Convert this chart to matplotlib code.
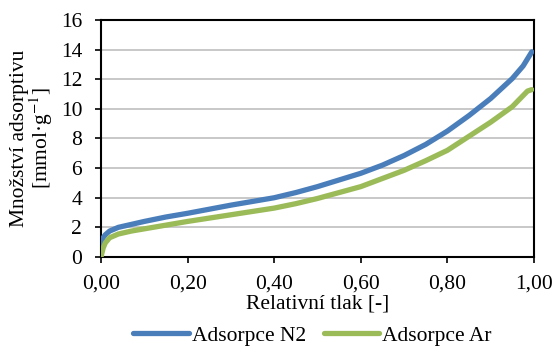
#!/usr/bin/env python3
"""Adsorption isotherms of N2 and Ar (relative pressure vs adsorbed amount)."""

import matplotlib
matplotlib.use('Agg')
import matplotlib.pyplot as plt

# N2 isotherm
p_n2 = [0.0, 0.005, 0.01, 0.02, 0.04, 0.07, 0.10, 0.15, 0.20, 0.30, 0.40,
        0.45, 0.50, 0.55, 0.60, 0.65, 0.70, 0.75, 0.80, 0.85, 0.90,
        0.95, 0.975, 0.995]
q_n2 = [0.9, 1.3, 1.5, 1.75, 2.0, 2.2, 2.4, 2.7, 2.95, 3.5, 4.0,
        4.35, 4.75, 5.2, 5.65, 6.2, 6.85, 7.6, 8.5, 9.55, 10.7,
        12.05, 12.9, 13.85]

# Ar isotherm
p_ar = [0.0, 0.005, 0.01, 0.02, 0.04, 0.07, 0.10, 0.15, 0.20, 0.30, 0.40,
        0.45, 0.50, 0.55, 0.60, 0.65, 0.70, 0.75, 0.80, 0.85, 0.90,
        0.95, 0.985, 0.995]
q_ar = [0.0, 0.6, 0.95, 1.3, 1.55, 1.75, 1.9, 2.15, 2.4, 2.85, 3.3,
        3.6, 3.95, 4.35, 4.75, 5.3, 5.85, 6.5, 7.2, 8.15, 9.1,
        10.15, 11.2, 11.3]

x_ticks = [0.0, 0.2, 0.4, 0.6, 0.8, 1.0]
y_ticks = [0, 2, 4, 6, 8, 10, 12, 14, 16]

plt.rcParams['font.family'] = ['Liberation Serif', 'DejaVu Serif']
plt.rcParams['mathtext.fontset'] = 'stix'
FS = 15.5

fig = plt.figure(figsize=(5.53, 3.47), dpi=100)
ax = fig.add_axes([0.1826, 0.2594, 0.783, 0.683])

ax.plot(p_n2, q_n2, color='#4A7EBB', lw=3.8, solid_capstyle='round',
        label='Adsorpce N2', zorder=3)
ax.plot(p_ar, q_ar, color='#9BBB59', lw=3.8, solid_capstyle='round',
        label='Adsorpce Ar', zorder=3)

ax.set_xlim(0, 1)
ax.set_ylim(0, 16)
ax.set_xticks(x_ticks)
ax.set_xticklabels([f"{v:.2f}".replace('.', ',') for v in x_ticks])
ax.set_yticks(y_ticks)
ax.tick_params(labelsize=FS, length=4.5, width=1.2, direction='out',
               color='black')
ax.tick_params(axis='x', pad=8)
ax.tick_params(axis='y', pad=9)
ax.grid(axis='y', color='#BFBFBF', lw=1.2)
ax.set_axisbelow(True)
for s in ax.spines.values():
    s.set_linewidth(1.5)
    s.set_color('black')

ax.set_xlabel('Relativní tlak [-]', fontsize=FS)
ax.xaxis.label.set_verticalalignment('center')
ax.xaxis.set_label_coords(0.5, -0.20)
ax.set_ylabel('Množství adsorptivu\n[mmol·g$^{-1}$]', fontsize=FS,
              linespacing=0.95)
ax.yaxis.label.set_verticalalignment('center')
ax.yaxis.set_label_coords(-0.158, 0.5)

fig.legend(loc='center', bbox_to_anchor=(0.565, 0.032), ncol=2, frameon=False,
           fontsize=FS, handlelength=2.56, columnspacing=0.84,
           handletextpad=0.14, borderpad=0, borderaxespad=0)

plt.savefig('out.png', dpi=100)
plt.close()
